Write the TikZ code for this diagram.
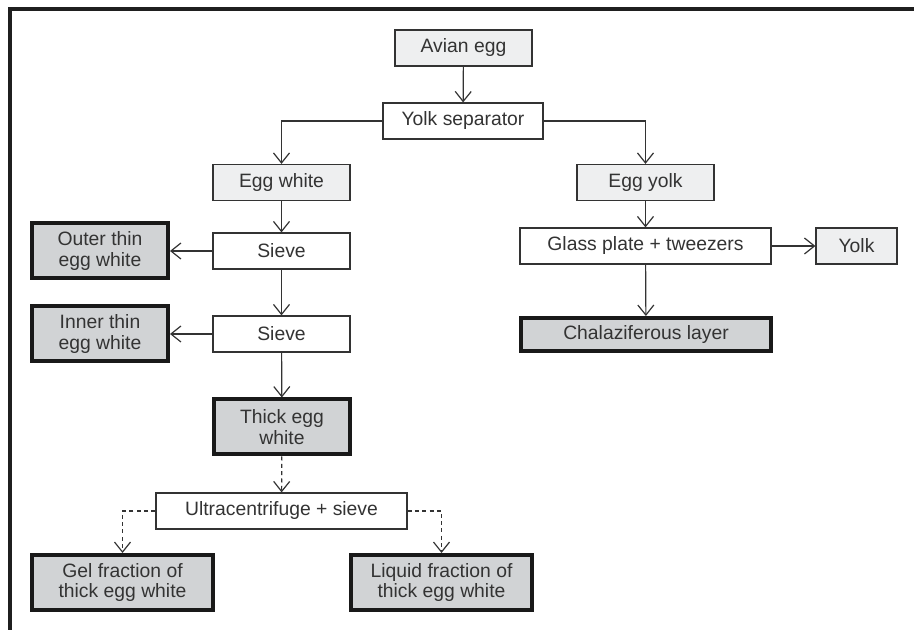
\documentclass[tikz,border=0pt]{standalone}
\usepackage{fontspec}
\setmainfont{Liberation Sans}
\usetikzlibrary{arrows.meta}
\definecolor{paleshade}{HTML}{EEEFF0}
\definecolor{darkshade}{HTML}{D1D3D5}
\definecolor{ink}{HTML}{333333}

\begin{document}
\begin{tikzpicture}[x=0.75pt,y=-0.75pt,font=\fontsize{14.5}{15.5}\selectfont,>={Straight Barb[length=7.5pt,width=12pt]}]
% Three box styles: pale, plain and final fraction
\tikzstyle{pale box}=[rectangle,draw=ink,line width=0.9pt,fill=paleshade,text=ink,minimum height=27pt,minimum width=102.75pt,inner sep=2pt,align=center];
\tikzstyle{plain box}=[pale box,fill=white];
\tikzstyle{end box}=[pale box,draw=black!90,line width=3pt,fill=darkshade,minimum height=41.25pt,minimum width=102pt];
% Solid and dashed connectors
\tikzstyle{flow}=[draw=ink,line width=0.9pt,->];
\tikzstyle{flow dashed}=[flow,dash pattern=on 3pt off 2.5pt];
\useasboundingbox (0,0) rectangle (914,630);
% frame edges
\draw[line width=3pt,black!88] (9.5,630) -- (9.5,9.5) -- (914,9.5);
% The boxes
\node(egg)[pale box] at (463.5,48) {Avian egg};
\node(sep)[plain box,minimum width=120pt] at (463,121) {Yolk separator};
\node(white)[pale box] at (281.5,182.5) {Egg white};
\node(sieveA)[plain box] at (281.5,251) {Sieve};
\node(outer)[end box] at (100,251) {Outer thin\\egg white};
\node(sieveB)[plain box] at (281.5,334) {Sieve};
\node(inner)[end box] at (100,334) {Inner thin\\egg white};
\node(thick)[end box] at (282,427) {Thick egg\\white};
\node(ultra)[plain box,minimum width=188.25pt] at (281.5,511) {Ultracentrifuge + sieve};
\node(gel)[end box,minimum width=135.75pt] at (122.5,582.5) {Gel fraction of\\thick egg white};
\node(liquid)[end box,minimum width=135.75pt] at (441.5,582.5) {Liquid fraction of\\thick egg white};
\node(eyolk)[pale box] at (645.5,182.5) {Egg yolk};
\node(glass)[plain box,minimum width=188.25pt] at (645.5,246) {Glass plate + tweezers};
\node(yolk)[pale box,minimum width=60.75pt] at (856.5,246) {Yolk};
\node(chalaza)[end box,minimum width=187.5pt,minimum height=24.75pt] at (646,334.5) {Chalaziferous layer};
% The flow
\draw[flow](egg)--(sep);
\draw[flow](sep.west)-|(white.north);
\draw[flow](sep.east)-|(eyolk.north);
\draw[flow](white)--(sieveA);
\draw[flow](sieveA)--(outer);
\draw[flow](sieveA)--(sieveB);
\draw[flow](sieveB)--(inner);
\draw[flow](sieveB)--(thick);
\draw[flow dashed](thick)--(ultra);
\draw[flow dashed](ultra.west)-|(gel.north);
\draw[flow dashed](ultra.east)-|(liquid.north);
\draw[flow](eyolk)--(glass);
\draw[flow](glass)--(yolk);
\draw[flow](glass)--(chalaza);
\end{tikzpicture}
\end{document}
